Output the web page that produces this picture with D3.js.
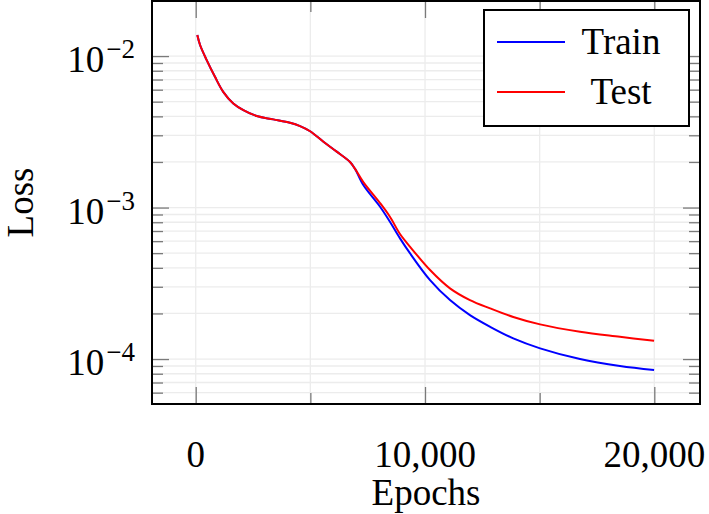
<!DOCTYPE html>
<html>
<head>
<meta charset="utf-8">
<script src="https://cdn.jsdelivr.net/npm/d3@7"></script>
<style>
body { margin: 0; background: #fff; }
svg { display: block; }
text { font-family: "Liberation Serif", "DejaVu Serif", serif; fill: #000; }
.grid line { stroke: #ececec; stroke-width: 1.3; }
.tick-mark line { stroke: #7a7a7a; stroke-width: 1.3; }
.tick-mark path { display: none; }
</style>
</head>
<body>
<svg width="709" height="514"></svg>
<script>
var epochs = [70, 190, 480, 840, 1200, 1640, 2080, 2660, 3380, 4110, 4550, 4990,
  5570, 6150, 6730, 6950, 7310, 8040, 8470, 8910, 9350, 10220, 11090, 11960, 12840,
  13850, 15020, 16760, 18500, 19990];

var trainLoss = [1.376e-2, 1.183e-2, 9.41e-3, 7.30e-3, 5.81e-3, 4.87e-3, 4.40e-3, 4.02e-3,
  3.82e-3, 3.63e-3, 3.45e-3, 3.19e-3, 2.72e-3, 2.34e-3, 2.00e-3, 1.80e-3,
  1.408e-3, 1.012e-3, 8.06e-4, 6.26e-4, 4.98e-4, 3.32e-4, 2.45e-4, 1.95e-4, 1.633e-4,
  1.369e-4, 1.177e-4, 1.0e-4, 8.99e-5, 8.46e-5];

var testLoss = [1.376e-2, 1.183e-2, 9.41e-3, 7.30e-3, 5.81e-3, 4.87e-3, 4.40e-3, 4.02e-3,
  3.82e-3, 3.63e-3, 3.45e-3, 3.19e-3, 2.72e-3, 2.34e-3, 2.00e-3, 1.80e-3,
  1.473e-3, 1.071e-3, 8.70e-4, 6.69e-4, 5.51e-4, 3.87e-4, 2.93e-4, 2.45e-4, 2.16e-4,
  1.897e-4, 1.694e-4, 1.514e-4, 1.403e-4, 1.320e-4];

var xMajor = [0, 10000, 20000];
var xMinor = [5000, 15000];
var xLabels = ["0", "10,000", "20,000"];
var yMajor = [1e-4, 1e-3, 1e-2];
var yExp = ["\u22124", "\u22123", "\u22122"];
var yMinor = [6e-5, 7e-5, 8e-5, 9e-5,
  2e-4, 3e-4, 4e-4, 5e-4, 6e-4, 7e-4, 8e-4, 9e-4,
  2e-3, 3e-3, 4e-3, 5e-3, 6e-3, 7e-3, 8e-3, 9e-3];

var series = [
  {name: "Train", color: "#0000ff", values: trainLoss},
  {name: "Test", color: "#ff0000", values: testLoss}
];

var svg = d3.select("svg");
var pl = 152, pr = 700, pt = 1, pb = 404;

var x = d3.scaleLinear().domain([-1906, 21993]).range([pl, pr]);
var y = d3.scaleLog().domain([5.05e-5, 0.0231]).range([pb, pt]);

// grid
var grid = svg.append("g").attr("class", "grid");
grid.selectAll(".gx").data(xMajor.concat(xMinor)).enter().append("line")
  .attr("x1", function(d) { return x(d); }).attr("x2", function(d) { return x(d); })
  .attr("y1", pt).attr("y2", pb);
grid.selectAll(".gy").data(yMajor.concat(yMinor)).enter().append("line")
  .attr("y1", function(d) { return y(d); }).attr("y2", function(d) { return y(d); })
  .attr("x1", pl).attr("x2", pr);

// tick marks on all four sides, pointing inward
function ticks(axis, vals, len, tr) {
  svg.append("g").attr("class", "tick-mark").attr("transform", tr)
    .call(axis.tickValues(vals).tickSize(-len).tickFormat(""));
}
ticks(d3.axisBottom(x), xMajor, 17, "translate(0," + pb + ")");
ticks(d3.axisBottom(x), xMinor, 11, "translate(0," + pb + ")");
ticks(d3.axisTop(x), xMajor, 17, "translate(0," + pt + ")");
ticks(d3.axisTop(x), xMinor, 11, "translate(0," + pt + ")");
ticks(d3.axisLeft(y), yMajor, 17, "translate(" + pl + ",0)");
ticks(d3.axisLeft(y), yMinor, 11, "translate(" + pl + ",0)");
ticks(d3.axisRight(y), yMajor, 17, "translate(" + pr + ",0)");
ticks(d3.axisRight(y), yMinor, 11, "translate(" + pr + ",0)");

// lines
var line = d3.line()
  .x(function(d, i) { return x(epochs[i]); })
  .y(function(d) { return y(d); })
  .curve(d3.curveCatmullRom.alpha(0.5));

svg.selectAll(".series").data(series).enter().append("path")
  .attr("fill", "none")
  .attr("stroke", function(d) { return d.color; })
  .attr("stroke-width", 2)
  .attr("d", function(d) { return line(d.values); });

// frame
svg.append("rect")
  .attr("x", pl).attr("y", pt)
  .attr("width", pr - pl).attr("height", pb - pt)
  .attr("fill", "none").attr("stroke", "#000").attr("stroke-width", 2);

// x tick labels
svg.selectAll(".xl").data(xMajor).enter().append("text")
  .attr("x", function(d) { return x(d); })
  .attr("y", 467)
  .attr("text-anchor", "middle")
  .attr("font-size", 37)
  .text(function(d, i) { return xLabels[i]; });

// y tick labels 10^n
var yl = svg.selectAll(".yl").data(yMajor).enter().append("text")
  .attr("x", 135)
  .attr("y", function(d) { return y(d) + 16; })
  .attr("text-anchor", "end")
  .attr("font-size", 37);
yl.append("tspan").text("10");
yl.append("tspan").attr("dy", -14).attr("dx", 2).attr("font-size", 27)
  .text(function(d, i) { return yExp[i]; });

// axis titles
svg.append("text")
  .attr("x", (pl + pr) / 2).attr("y", 505)
  .attr("text-anchor", "middle").attr("font-size", 37)
  .text("Epochs");
svg.append("text")
  .attr("transform", "translate(33," + ((pt + pb) / 2) + ") rotate(-90)")
  .attr("text-anchor", "middle").attr("font-size", 37)
  .text("Loss");

// legend
var lg = svg.append("g");
lg.append("rect")
  .attr("x", 484).attr("y", 10).attr("width", 205).attr("height", 116)
  .attr("fill", "#fff").attr("stroke", "#000").attr("stroke-width", 2);
var item = lg.selectAll(".item").data(series).enter().append("g")
  .attr("transform", function(d, i) { return "translate(0," + (42 + i * 50) + ")"; });
item.append("line")
  .attr("x1", 497).attr("x2", 565)
  .attr("stroke", function(d) { return d.color; }).attr("stroke-width", 2);
item.append("text")
  .attr("x", 621).attr("y", 12)
  .attr("text-anchor", "middle").attr("font-size", 37)
  .text(function(d) { return d.name; });
</script>
</body>
</html>
